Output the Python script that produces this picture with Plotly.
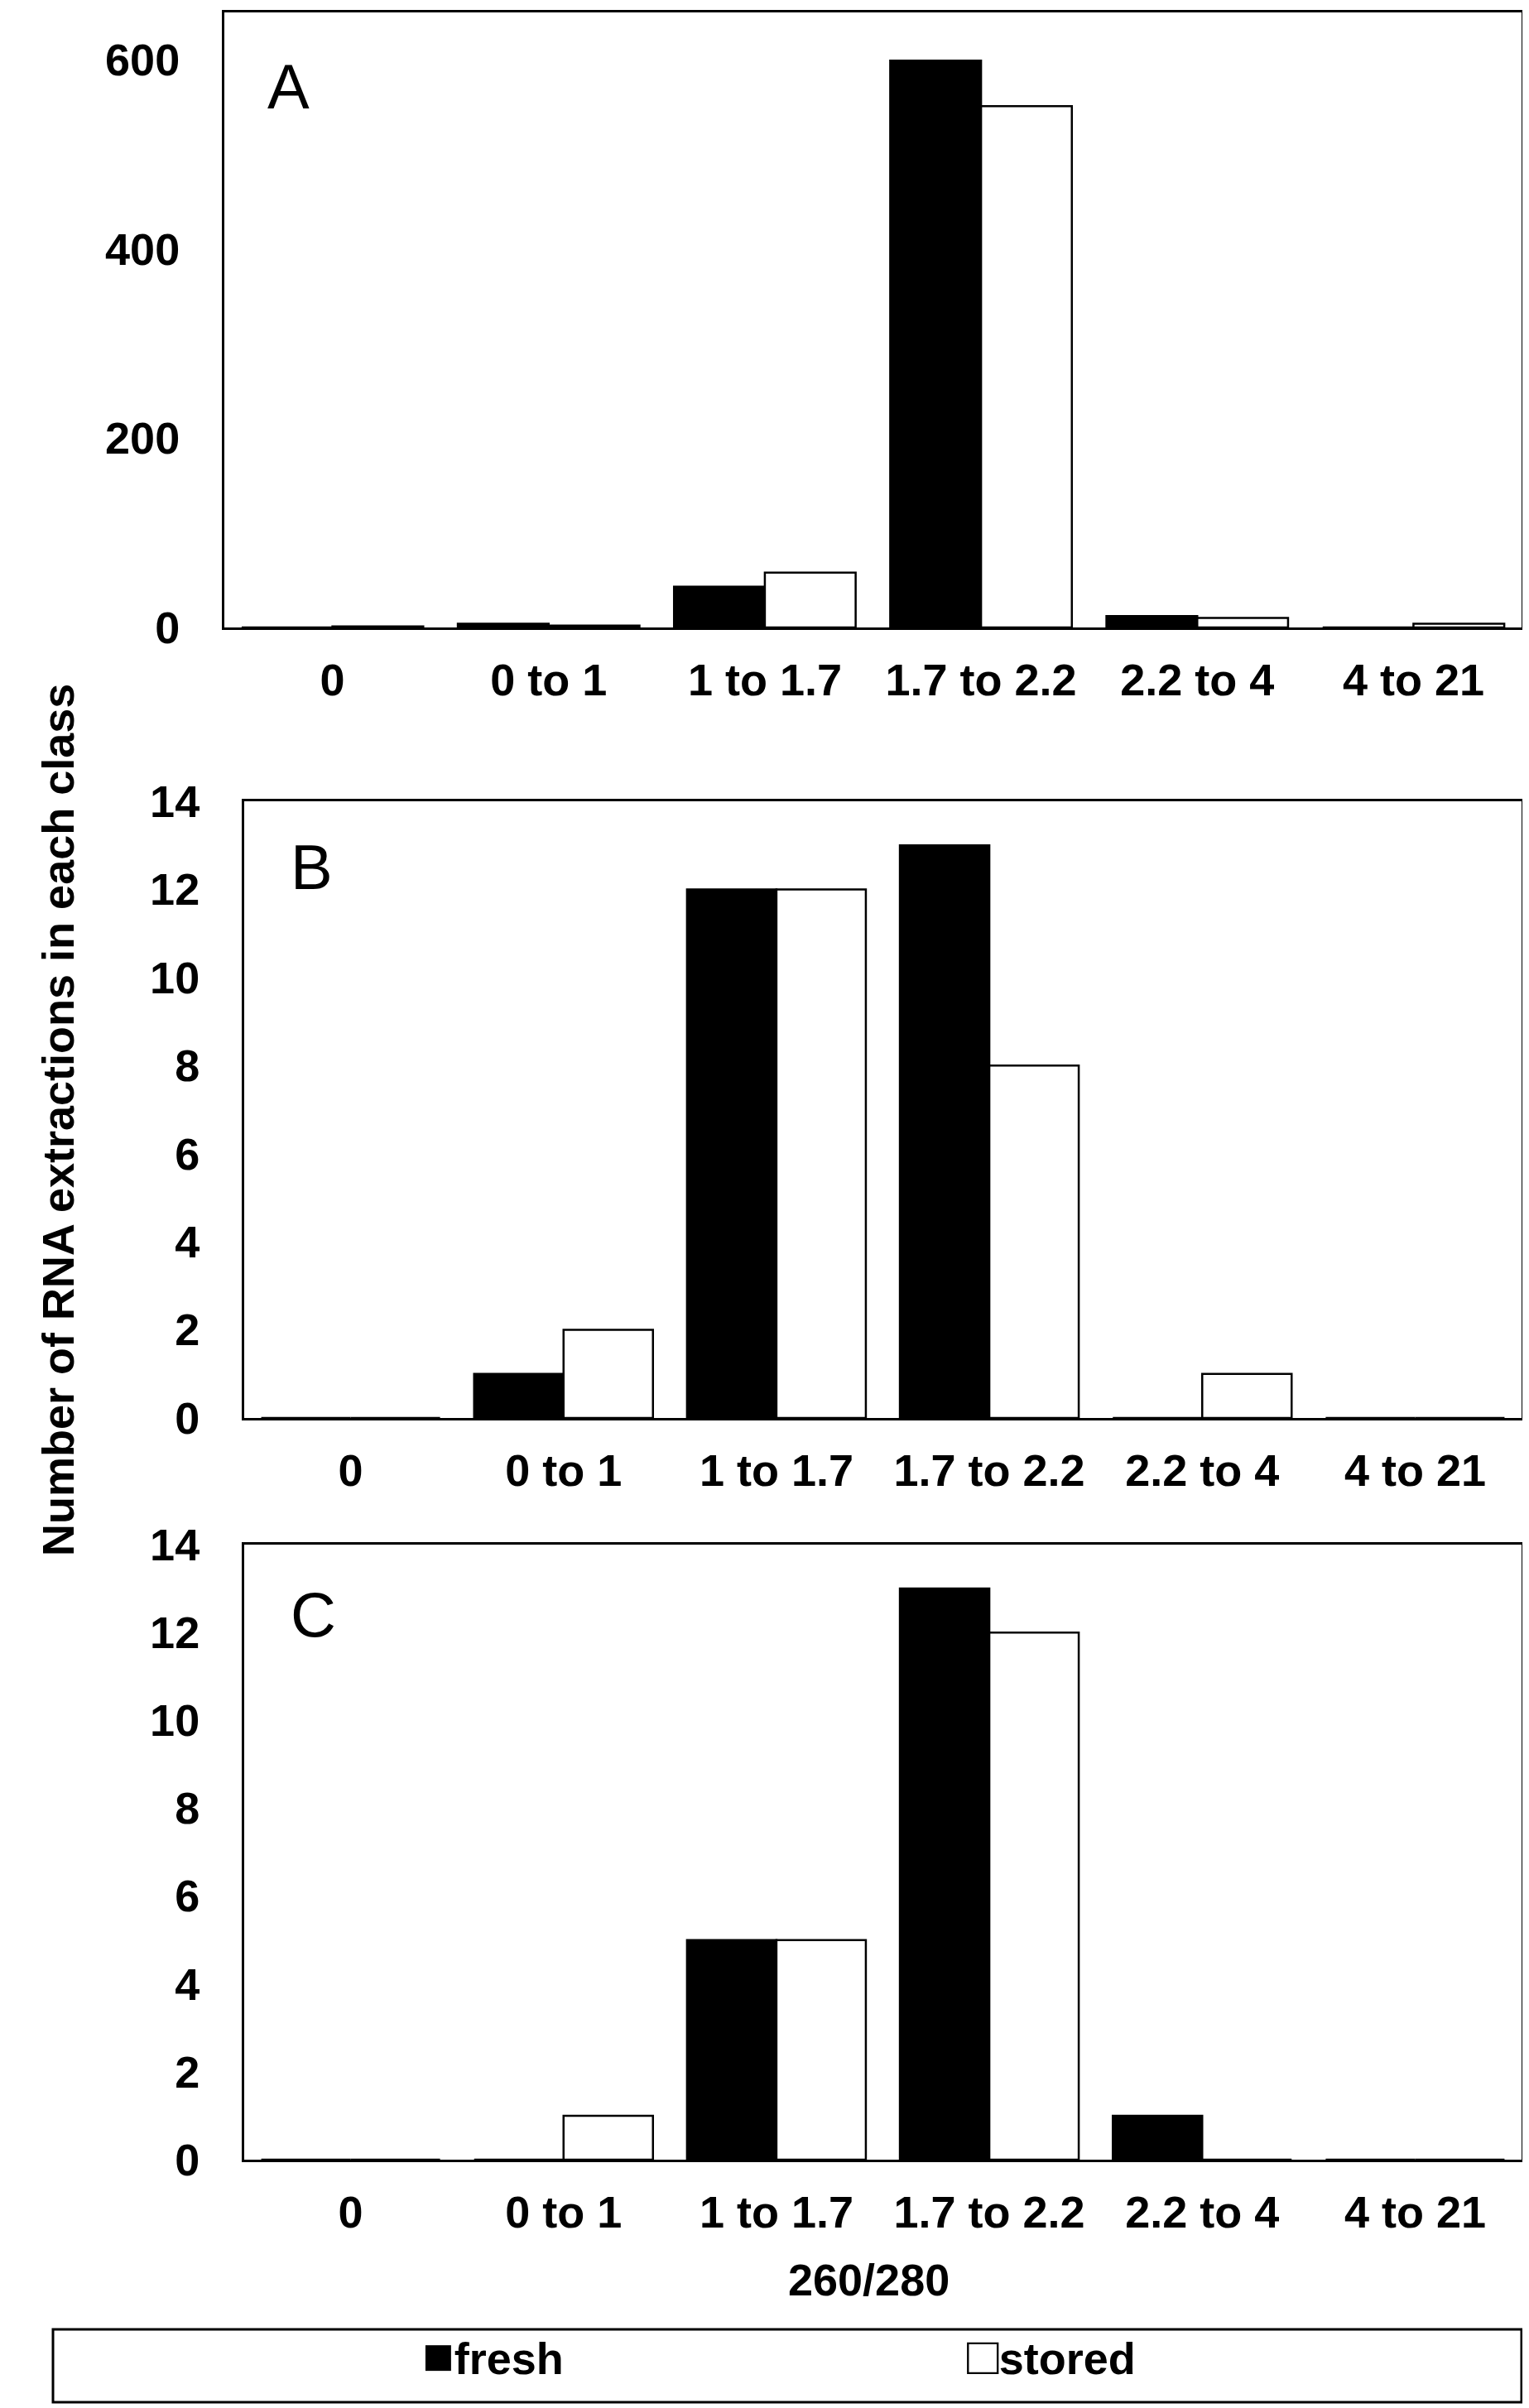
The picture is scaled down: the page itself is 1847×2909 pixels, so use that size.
import plotly.graph_objects as go
from plotly.subplots import make_subplots

# 260/280 ratio classes
classes = ["0", "0 to 1", "1 to 1.7", "1.7 to 2.2", "2.2 to 4", "4 to 21"]

# panel A
fresh_a = [0, 4, 43, 599, 12, 0]
stored_a = [1, 2, 58, 551, 10, 4]
# panel B
fresh_b = [0, 1, 12, 13, 0, 0]
stored_b = [0, 2, 12, 8, 1, 0]
# panel C
fresh_c = [0, 0, 5, 13, 1, 0]
stored_c = [0, 1, 5, 12, 0, 0]

panel_letters = ["A", "B", "C"]
series_names = ["fresh", "stored"]

W, H = 1847, 2909
FONT = "Arial, Liberation Sans, sans-serif"


def px(x, y):
    # pixel position -> paper coords
    return x / W, 1 - y / H


fig = make_subplots(rows=3, cols=1)

panels = [(fresh_a, stored_a), (fresh_b, stored_b), (fresh_c, stored_c)]
for i, (f, s) in enumerate(panels):
    fig.add_trace(go.Bar(x=classes, y=f, name=series_names[0],
                         marker=dict(color="black", line=dict(color="black", width=2.5)),
                         showlegend=False), row=i + 1, col=1)
    fig.add_trace(go.Bar(x=classes, y=s, name=series_names[1],
                         marker=dict(color="white", line=dict(color="black", width=2.5)),
                         showlegend=False), row=i + 1, col=1)

# plot boxes in pixels: (left, top, right, bottom)
boxes = [(263, 7, 1830, 750), (287, 960, 1830, 1705), (287, 1858, 1830, 2601)]
yranges = [[0, 650], [0, 14], [0, 14]]
dticks = [200, 2, 2]

for i, (l, t, r, b) in enumerate(boxes):
    n = "" if i == 0 else str(i + 1)
    fig.layout["xaxis" + n].update(
        domain=[l / W, r / W], showline=True, mirror=True, linecolor="black", linewidth=3,
        ticks="", showgrid=False, ticklabelstandoff=14, automargin=False,
        tickfont=dict(family=FONT, size=54, color="black", weight="bold"))
    fig.layout["yaxis" + n].update(
        domain=[1 - b / H, 1 - t / H], range=yranges[i], dtick=dticks[i],
        showline=True, mirror=True, linecolor="black", linewidth=3,
        ticks="", showgrid=False, zeroline=False, ticklabelstandoff=40, automargin=False,
        tickfont=dict(family=FONT, size=54, color="black", weight="bold"))

annotations = []
letter_pos = [(313, 52), (341, 995), (341, 1898)]
for letter, (x, y) in zip(panel_letters, letter_pos):
    ax, ay = px(x, y)
    annotations.append(dict(text=letter, x=ax, y=ay, xref="paper", yref="paper",
                            xanchor="left", yanchor="top", showarrow=False,
                            font=dict(family=FONT, size=76, color="black")))

# shared axis titles
tx, ty = px(30, 1345)
annotations.append(dict(text="Number of RNA extractions in each class", x=tx, y=ty,
                        xref="paper", yref="paper", textangle=-90, showarrow=False,
                        font=dict(family=FONT, size=54, color="black", weight="bold")))
tx, ty = px(1041, 2778)
annotations.append(dict(text="260/280", x=tx, y=ty, xref="paper", yref="paper",
                        showarrow=False,
                        font=dict(family=FONT, size=54, color="black", weight="bold")))

# legend
for name, glyph, x in zip(series_names, ["\u25a0", "\u25a1"], [500, 1158]):
    lx, ly = px(x, 2838)
    annotations.append(dict(text="<span style='font-size:64px'>" + glyph + "</span>" + name,
                            x=lx, y=ly, xref="paper", yref="paper",
                            xanchor="left", yanchor="middle", showarrow=False,
                            font=dict(family=FONT, size=54, color="black", weight="bold")))

x0, y1 = px(56, 2806)
x1, y0 = px(1830, 2894)
fig.add_shape(type="rect", xref="paper", yref="paper", x0=x0, x1=x1, y0=y0, y1=y1,
              line=dict(color="black", width=3), fillcolor="rgba(0,0,0,0)")

fig.update_layout(
    width=W, height=H, barmode="group", bargap=0.16, bargroupgap=0,
    margin=dict(l=0, r=0, t=0, b=0),
    plot_bgcolor="white", paper_bgcolor="white",
    annotations=annotations, showlegend=False,
)

fig.write_html("out.html")
